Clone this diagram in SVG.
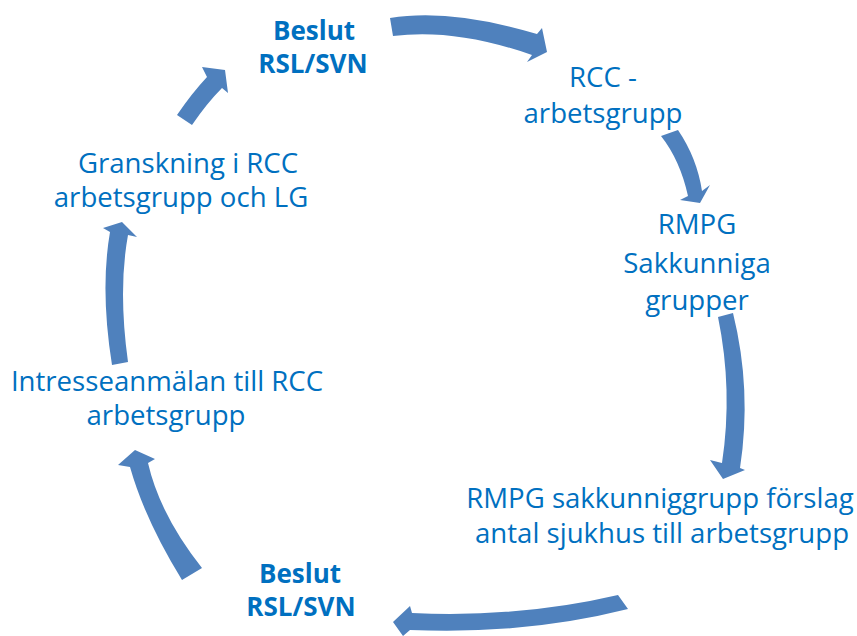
<svg xmlns="http://www.w3.org/2000/svg" width="857" height="636" viewBox="0 0 857 636">
<style>
.arr{fill:#4F81BD;stroke:none}
.t{font-family:"Open Sans","Liberation Sans",sans-serif;font-size:27.6px;fill:#0070C0;text-anchor:middle}
.b{font-weight:bold;font-size:26px}
</style>
<rect width="857" height="636" fill="#FFFFFF"/>
<g id="connectors">
<path class="arr" d="M390,18 Q450,8 537,34 L542,28 L547,52 L527,62 L532,55 Q455,28 393,36 Z"/>
<path class="arr" d="M661,136 Q680,160 688,196 L680,200 L700,203 L710,185 L702,191 Q697,158 678,130 Z"/>
<path class="arr" d="M718,317 Q733,390 722,463 L710,460 L723,479 L745,470 L740,468 Q752,390 733,313 Z"/>
<path class="arr" d="M618,595 Q520,618 412,613 L410,606 L393,622 L403,636 L410,630 Q525,635 628,609 Z"/>
<path class="arr" d="M182,580 Q145,520 130,467 L118,465 L135,450 L155,459 L148,463 Q160,515 202,568 Z"/>
<path class="arr" d="M112,365 Q100,290 110,232 L103,228 L122,222 L137,237 L128,235 Q118,290 128,362 Z"/>
<path class="arr" d="M177,115 Q192,93 207,77 L202,67 L225,70 L228,93 L222,88 Q207,103 192,125 Z"/>
</g>
<g id="node-beslut-top">
<text class="t b" x="314" y="40">Beslut</text>
<text class="t b" x="313" y="73">RSL/SVN</text>
</g>
<g id="node-rcc">
<text class="t" x="603" y="87">RCC -</text>
<text class="t" x="603" y="123">arbetsgrupp</text>
</g>
<g id="node-rmpg">
<text class="t" x="697" y="234">RMPG</text>
<text class="t" x="697" y="273">Sakkunniga</text>
<text class="t" x="697" y="310">grupper</text>
</g>
<g id="node-forslag">
<text class="t" x="660" y="508">RMPG sakkunniggrupp förslag</text>
<text class="t" x="662" y="543">antal sjukhus till arbetsgrupp</text>
</g>
<g id="node-beslut-bottom">
<text class="t b" x="300" y="583">Beslut</text>
<text class="t b" x="301" y="616">RSL/SVN</text>
</g>
<g id="node-intresse">
<text class="t" x="167" y="391">Intresseanmälan till RCC</text>
<text class="t" x="166" y="425">arbetsgrupp</text>
</g>
<g id="node-granskning">
<text class="t" x="188" y="173">Granskning i RCC</text>
<text class="t" x="181" y="207">arbetsgrupp och LG</text>
</g>
</svg>
